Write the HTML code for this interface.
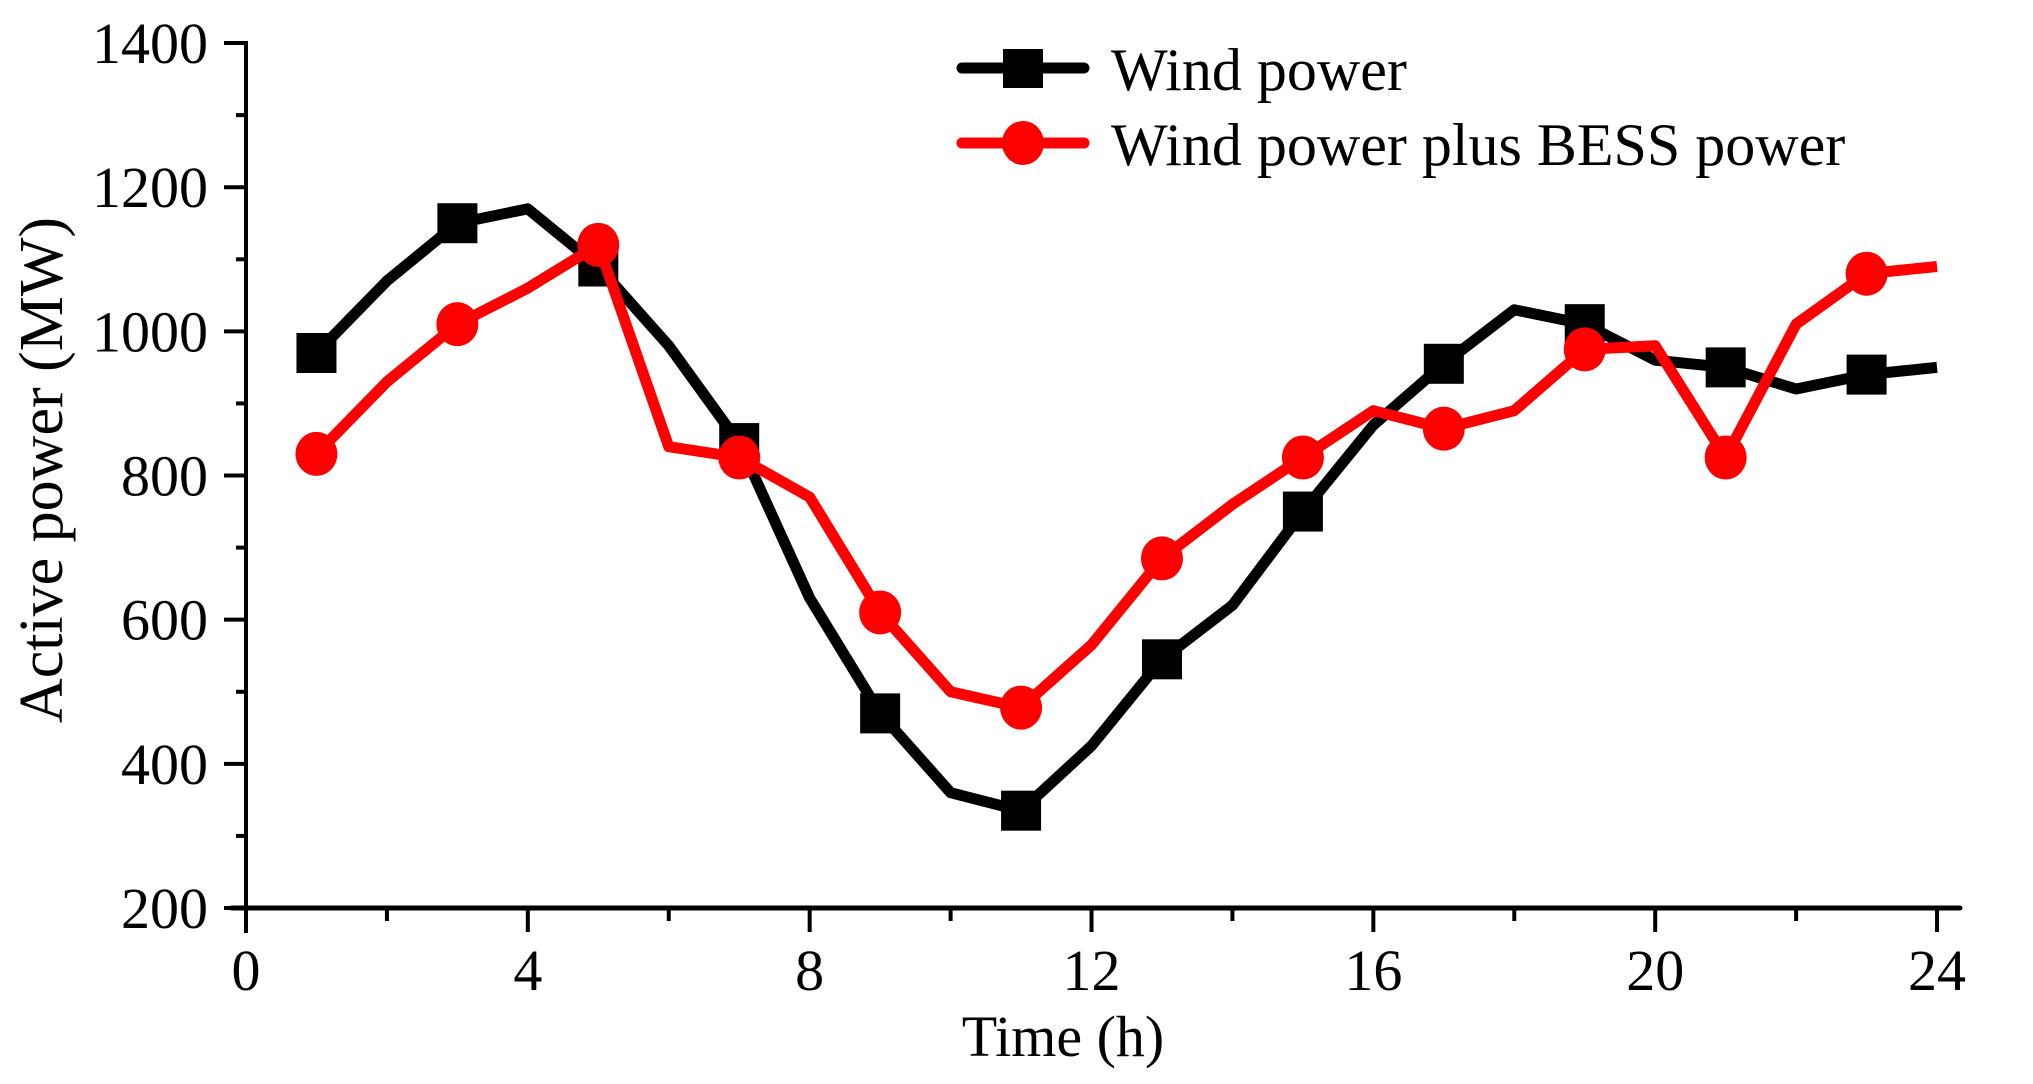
<!DOCTYPE html>
<html><head><meta charset="utf-8"><style>html,body{margin:0;padding:0;background:#fff}svg{display:block}</style></head>
<body>
<svg width="2033" height="1084" viewBox="0 0 2033 1084" xmlns="http://www.w3.org/2000/svg" font-family="Liberation Serif, serif">
<g id="plot"></g>
<script>
(function(){
var ns="http://www.w3.org/2000/svg",g=document.getElementById("plot");
function X(h){return 246+h*70.46}
function Y(v){return 908-(v-200)*0.7208}
function el(t,a,txt){var e=document.createElementNS(ns,t);for(var k in a)e.setAttribute(k,a[k]);if(txt!=null)e.textContent=txt;g.appendChild(e);return e}
var b=[970,1070,1150,1170,1090,980,845,630,470,360,335,425,545,620,750,870,955,1030,1010,960,950,920,940,950];
var r=[830,930,1010,1060,1120,840,825,770,610,500,478,565,685,760,825,890,865,890,975,980,825,1010,1080,1090];
el("line",{x1:246,y1:41,x2:246,y2:933,stroke:"#000","stroke-width":4});
el("line",{x1:232,y1:908,x2:1960,y2:908,stroke:"#000","stroke-width":5,"stroke-linecap":"round"});
for(var v=200;v<=1400;v+=100){var maj=(v%200==0);el("line",{x1:maj?224:236,y1:Y(v),x2:246,y2:Y(v),stroke:"#000","stroke-width":4});
 if(maj)el("text",{x:208,y:Y(v)+20,"font-size":58,"text-anchor":"end"},String(v));}
for(var h=0;h<=24;h+=2){var maj=(h%4==0);el("line",{x1:X(h),y1:908,x2:X(h),y2:maj?932:921,stroke:"#000","stroke-width":4});
 if(maj)el("text",{x:X(h),y:990,"font-size":58,"text-anchor":"middle"},String(h));}
el("text",{x:1063,y:1056,"font-size":58,"text-anchor":"middle"},"Time (h)");
el("text",{x:0,y:0,"font-size":62,"text-anchor":"middle",transform:"translate(62,470) rotate(-90)"},"Active power (MW)");
function pts(d){return d.map(function(v,i){return X(i+1)+","+Y(v)}).join(" ")}
el("polyline",{points:pts(b),fill:"none",stroke:"#000","stroke-width":11,"stroke-linejoin":"round"});
for(var i=0;i<24;i+=2)el("rect",{x:X(i+1)-20,y:Y(b[i])-20,width:40,height:40,fill:"#000"});
el("polyline",{points:pts(r),fill:"none",stroke:"#f00","stroke-width":11,"stroke-linejoin":"round"});
for(var i=0;i<24;i+=2)el("ellipse",{cx:X(i+1),cy:Y(r[i]),rx:21,ry:22,fill:"#f00"});
el("line",{x1:962,y1:68,x2:1084,y2:68,stroke:"#000","stroke-width":11,"stroke-linecap":"round"});
el("rect",{x:1003,y:49,width:40,height:39,fill:"#000"});
el("text",{x:1111,y:90,"font-size":60},"Wind power");
el("line",{x1:962,y1:143,x2:1084,y2:143,stroke:"#f00","stroke-width":11,"stroke-linecap":"round"});
el("ellipse",{cx:1023,cy:143,rx:21,ry:22,fill:"#f00"});
el("text",{x:1111,y:165,"font-size":60},"Wind power plus BESS power");
})();
</script>
</svg>
</body></html>
